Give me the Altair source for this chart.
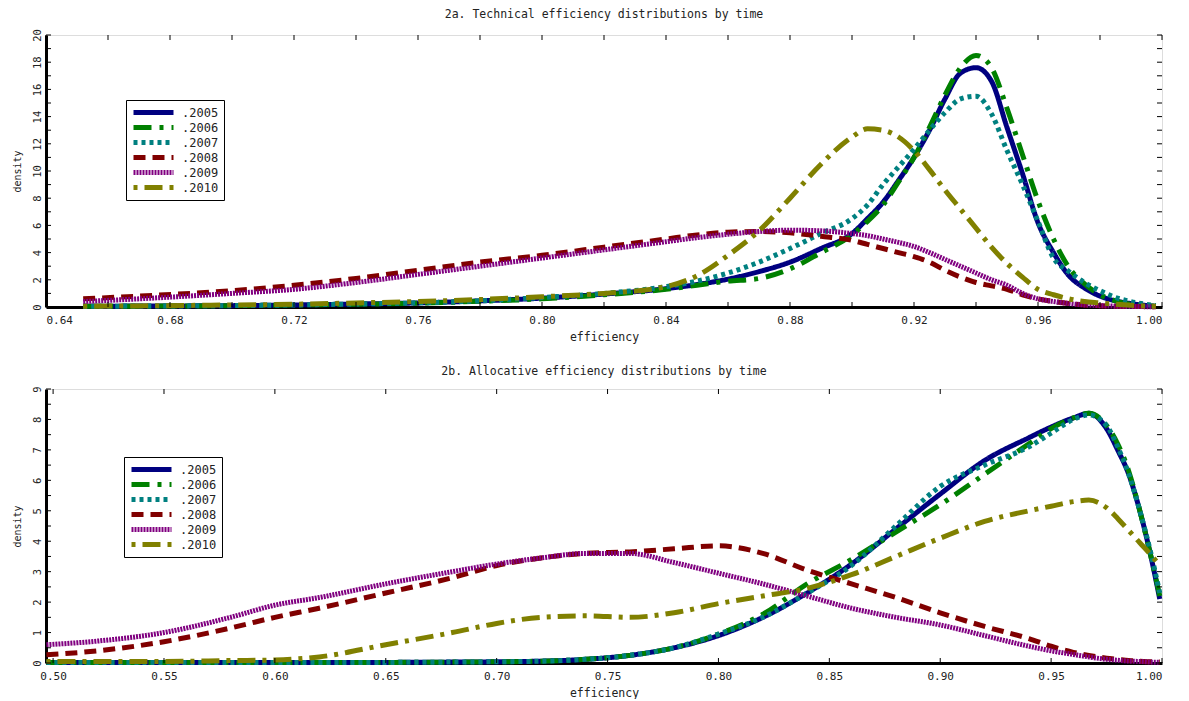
import altair as alt
import pandas as pd

years = [".2005", ".2006", ".2007", ".2008", ".2009", ".2010"]
colors = ["#000080", "#008000", "#008080", "#800000", "#800080", "#808000"]
dashes = [[1, 0], [18, 8, 4, 8], [4, 4], [12, 7], [2, 1], [4, 7, 18, 7]]

# ---- Panel 2a: technical efficiency ----
te_x = [0.652, 0.67, 0.70, 0.72, 0.74, 0.76, 0.78, 0.80, 0.82, 0.84, 0.85, 0.86, 0.87,
        0.88, 0.89, 0.90, 0.905, 0.91, 0.915, 0.92, 0.925, 0.93, 0.935, 0.94, 0.945,
        0.95, 0.955, 0.96, 0.965, 0.97, 0.975, 0.98, 0.985, 0.99, 0.998]
te_2005 = [0.05, 0.07, 0.1, 0.15, 0.22, 0.3, 0.45, 0.65, 0.95, 1.35, 1.65, 2.05, 2.6,
           3.3, 4.3, 5.4, 6.5, 7.7, 9.3, 11.0, 13.0, 15.3, 17.2, 17.6, 16.6,
           13.2, 9.8, 6.2, 4.0, 2.3, 1.4, 0.8, 0.45, 0.25, 0.05]
te_2006 = [0.05, 0.06, 0.1, 0.15, 0.2, 0.28, 0.42, 0.6, 0.9, 1.3, 1.6, 1.9, 2.1,
           2.8, 4.0, 5.3, 6.3, 7.5, 9.2, 11.0, 13.2, 15.6, 17.6, 18.5, 17.6,
           14.6, 11.2, 7.8, 5.0, 2.9, 1.7, 0.9, 0.45, 0.2, 0.05]
te_2007 = [0.05, 0.07, 0.1, 0.15, 0.22, 0.3, 0.45, 0.7, 1.0, 1.5, 1.9, 2.5, 3.3,
           4.3, 5.4, 6.5, 7.5, 9.0, 10.3, 11.6, 13.0, 14.3, 15.3, 15.5, 14.2,
           11.5, 9.0, 6.3, 3.6, 2.6, 1.8, 1.2, 0.7, 0.4, 0.1]
te_2008 = [0.6, 0.8, 1.2, 1.6, 2.1, 2.7, 3.3, 3.8, 4.4, 5.0, 5.3, 5.5, 5.55,
           5.45, 5.2, 4.9, 4.6, 4.3, 4.0, 3.7, 3.3, 2.7, 2.2, 1.8, 1.55,
           1.3, 0.9, 0.6, 0.4, 0.25, 0.15, 0.1, 0.06, 0.04, 0.02]
te_2009 = [0.4, 0.6, 1.0, 1.3, 1.8, 2.4, 3.0, 3.6, 4.2, 4.8, 5.1, 5.35, 5.55,
           5.65, 5.6, 5.4, 5.25, 5.0, 4.75, 4.45, 4.0, 3.5, 3.0, 2.5, 2.0,
           1.6, 1.0, 0.6, 0.4, 0.25, 0.15, 0.1, 0.06, 0.04, 0.02]
te_2010 = [0.05, 0.08, 0.15, 0.2, 0.3, 0.4, 0.55, 0.75, 1.0, 1.5, 2.3, 3.8, 5.6,
           8.0, 10.5, 12.5, 13.1, 13.0, 12.5, 11.5, 10.1, 8.6, 7.2, 5.8, 4.4,
           3.2, 2.2, 1.3, 0.9, 0.6, 0.4, 0.3, 0.2, 0.12, 0.05]

# ---- Panel 2b: allocative efficiency ----
ae_x = [0.497, 0.52, 0.55, 0.58, 0.60, 0.62, 0.65, 0.68, 0.70, 0.72, 0.74, 0.76, 0.78,
        0.80, 0.82, 0.84, 0.86, 0.88, 0.90, 0.92, 0.94, 0.95, 0.96, 0.967, 0.975,
        0.98, 0.985, 0.99, 0.995, 0.999]
ae_2005 = [0.02, 0.02, 0.02, 0.02, 0.02, 0.02, 0.02, 0.03, 0.04, 0.06, 0.12, 0.25, 0.5,
           0.9, 1.5, 2.3, 3.25, 4.4, 5.55, 6.65, 7.4, 7.75, 8.05, 8.2, 7.7,
           7.0, 6.2, 5.0, 3.5, 2.1]
ae_2006 = [0.02, 0.02, 0.02, 0.02, 0.02, 0.02, 0.02, 0.03, 0.04, 0.06, 0.12, 0.25, 0.5,
           0.95, 1.6, 2.6, 3.4, 4.3, 5.2, 6.2, 7.2, 7.7, 8.05, 8.2, 7.8,
           7.2, 6.3, 5.0, 3.5, 2.2]
ae_2007 = [0.02, 0.02, 0.02, 0.02, 0.02, 0.02, 0.02, 0.03, 0.04, 0.06, 0.12, 0.25, 0.5,
           0.95, 1.5, 2.3, 3.2, 4.5, 5.8, 6.5, 7.1, 7.55, 8.0, 8.15, 7.8,
           7.1, 6.2, 5.0, 3.6, 2.3]
ae_2008 = [0.27, 0.4, 0.7, 1.15, 1.5, 1.8, 2.3, 2.8, 3.2, 3.45, 3.6, 3.65, 3.75,
           3.85, 3.6, 3.05, 2.6, 2.15, 1.65, 1.2, 0.8, 0.55, 0.35, 0.25, 0.16,
           0.12, 0.08, 0.06, 0.04, 0.03]
ae_2009 = [0.6, 0.72, 1.0, 1.5, 1.9, 2.15, 2.6, 3.0, 3.25, 3.45, 3.6, 3.6, 3.3,
           2.95, 2.6, 2.2, 1.8, 1.5, 1.25, 0.9, 0.55, 0.4, 0.28, 0.2, 0.12,
           0.09, 0.06, 0.05, 0.03, 0.02]
ae_2010 = [0.05, 0.05, 0.05, 0.08, 0.1, 0.2, 0.6, 1.0, 1.3, 1.5, 1.55, 1.5, 1.65,
           1.95, 2.2, 2.45, 2.9, 3.5, 4.1, 4.65, 5.0, 5.15, 5.3, 5.35, 5.1,
           4.75, 4.35, 3.95, 3.55, 3.2]

te_xticks = [0.64, 0.68, 0.72, 0.76, 0.80, 0.84, 0.88, 0.92, 0.96, 1.00]
te_xminor = [round(0.64 + 0.02 * i, 2) for i in range(19)]
te_yticks = [0, 2, 4, 6, 8, 10, 12, 14, 16, 18, 20]
te_yminor = list(range(0, 21))

ae_xticks = [0.50, 0.55, 0.60, 0.65, 0.70, 0.75, 0.80, 0.85, 0.90, 0.95, 1.00]
ae_yticks = [0, 1, 2, 3, 4, 5, 6, 7, 8, 9]
ae_yminor = [0.5 * i for i in range(19)]

FONT = "DejaVu Sans Mono"
TXT = "#222"
W = 1116


def long_df(xs, series):
    rows = []
    for yr, vals in zip(years, series):
        for i, (xv, dv) in enumerate(zip(xs, vals)):
            rows.append({"year": yr, "eff": xv, "dens": dv, "order": i})
    return pd.DataFrame(rows)


def legend(lx, ly):
    return alt.Legend(title=None, orient="none", legendX=lx, legendY=ly,
                      symbolType="stroke", symbolSize=1600, symbolStrokeWidth=5,
                      clipHeight=15, labelFontSize=12, labelFont=FONT, labelColor=TXT,
                      labelOffset=6, strokeColor="black", fillColor="white",
                      padding=5, rowPadding=0)


def panel(df, xdom, xticks, xminor, ydom, yticks, yminor, title, H, lx, ly):
    xs = alt.Scale(domain=xdom, nice=False, zero=False)
    ys = alt.Scale(domain=ydom, nice=False, zero=False)
    xaxis = alt.Axis(values=xticks, format=".2f", title="efficiency",
                     grid=False, tickSize=0, labelPadding=7, labelOverlap=False,
                     domainWidth=3, domainColor="black",
                     labelFontSize=11, labelColor=TXT,
                     titleFontSize=11.5, titleFontWeight="normal",
                     titleColor=TXT, titlePadding=6,
                     labelFont=FONT, titleFont=FONT)
    yaxis = alt.Axis(values=yticks, format="d", title="density",
                     grid=False, tickSize=0, labelPadding=4, labelOverlap=False,
                     labelAngle=270, labelAlign="center", labelBaseline="bottom",
                     domainWidth=3, domainColor="black",
                     labelFontSize=10.5, labelColor=TXT,
                     titleFontSize=10, titleFontWeight="normal",
                     titleColor=TXT, titlePadding=10,
                     labelFont=FONT, titleFont=FONT)
    lines = alt.Chart(df).mark_line(strokeWidth=5, strokeCap="butt", interpolate="monotone").encode(
        x=alt.X("eff:Q", scale=xs, axis=xaxis, title="efficiency"),
        y=alt.Y("dens:Q", scale=ys, axis=yaxis, title="density"),
        color=alt.Color("year:N", scale=alt.Scale(domain=years, range=colors), legend=legend(lx, ly)),
        strokeDash=alt.StrokeDash("year:N", scale=alt.Scale(domain=years, range=dashes),
                                  legend=legend(lx, ly)),
        order="order:Q",
    )
    xt = pd.DataFrame({"t": xminor})
    yt = pd.DataFrame({"t": yminor})
    tick_b = alt.Chart(xt).mark_rule(color="black", strokeWidth=1).encode(
        x=alt.X("t:Q", scale=xs, axis=xaxis, title="efficiency"), y=alt.value(H), y2=alt.value(H - 5))
    tick_t = alt.Chart(xt).mark_rule(color="black", strokeWidth=1).encode(
        x=alt.X("t:Q", scale=xs, axis=xaxis, title="efficiency"), y=alt.value(0), y2=alt.value(5))
    tick_l = alt.Chart(yt).mark_rule(color="black", strokeWidth=1).encode(
        y=alt.Y("t:Q", scale=ys, axis=yaxis, title="density"), x=alt.value(0), x2=alt.value(5))
    tick_r = alt.Chart(yt).mark_rule(color="black", strokeWidth=1).encode(
        y=alt.Y("t:Q", scale=ys, axis=yaxis, title="density"), x=alt.value(W), x2=alt.value(W - 5))
    return alt.layer(lines, tick_b, tick_t, tick_l, tick_r).properties(
        width=W, height=H,
        title=alt.TitleParams(title, fontSize=11.5, fontWeight="normal", font=FONT,
                              color=TXT, offset=8, anchor="middle"))


top = panel(long_df(te_x, [te_2005, te_2006, te_2007, te_2008, te_2009, te_2010]),
            [0.64, 1.0], te_xticks, te_xminor, [0, 20], te_yticks, te_yminor,
            "2a. Technical efficiency distributions by time", 272, 80, 65)
bottom = panel(long_df(ae_x, [ae_2005, ae_2006, ae_2007, ae_2008, ae_2009, ae_2010]),
               [0.4968, 1.0], ae_xticks, ae_xticks, [0, 9], ae_yticks, ae_yminor,
               "2b. Allocative efficiency distributions by time", 274, 78, 68)

chart = alt.vconcat(top, bottom, spacing=22).resolve_scale(
    color="independent", strokeDash="independent", x="independent", y="independent"
).properties(
    padding={"left": 3, "top": 0, "right": 5, "bottom": 0}
).configure_view(stroke="black", strokeWidth=2).configure(background="white")

chart.save("out.html", embed_options={"renderer": "svg", "actions": False})
